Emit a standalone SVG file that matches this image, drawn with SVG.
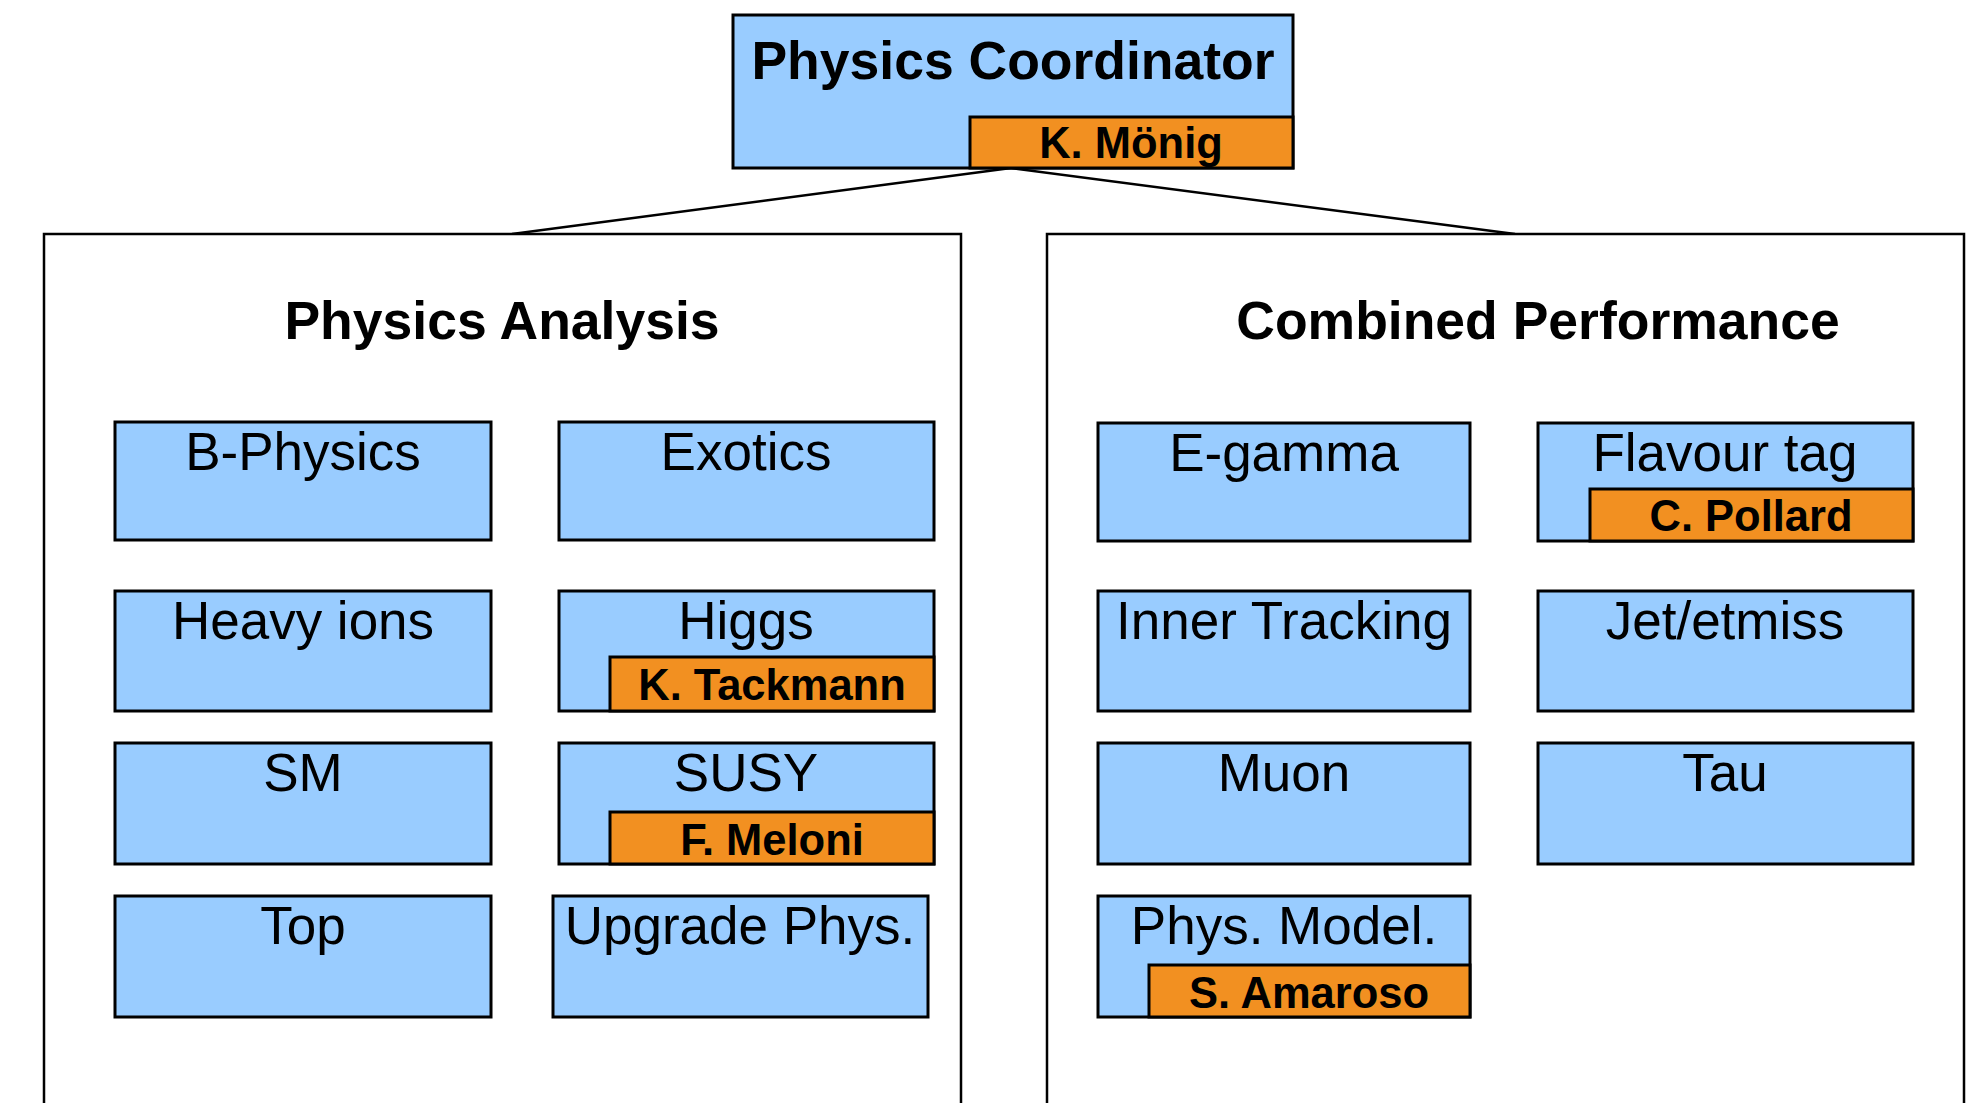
<svg xmlns="http://www.w3.org/2000/svg" width="1988" height="1103" viewBox="0 0 1988 1103">
<style>
.box{fill:#99ccff;stroke:#000;stroke-width:3}
.name{fill:#f29021;stroke:#000;stroke-width:3}
.cont{fill:#fff;stroke:#000;stroke-width:2.5}
.lbl{font-family:"Liberation Sans",Arial,sans-serif;font-size:53px;text-anchor:middle;fill:#000}
.ttl{font-family:"Liberation Sans",Arial,sans-serif;font-size:53.5px;font-weight:bold;text-anchor:middle;fill:#000}
.nm{font-family:"Liberation Sans",Arial,sans-serif;font-size:43.5px;font-weight:bold;text-anchor:middle;fill:#000}
.conn{stroke:#000;stroke-width:2.5;fill:none}
</style>
<rect width="1988" height="1103" fill="#fff"/>
<g id="connectors">
<line class="conn" x1="1011" y1="168" x2="512" y2="234"/>
<line class="conn" x1="1011" y1="168" x2="1515" y2="234"/>
</g>
<g id="coordinator">
<rect class="box" x="733" y="15" width="560" height="153"/>
<rect class="name" x="970" y="117" width="323" height="51"/>
<text class="ttl" x="1013" y="79">Physics Coordinator</text>
<text class="nm" x="1131" y="158">K. Mönig</text>
</g>
<g id="physics-analysis">
<rect class="cont" x="44" y="234" width="917" height="900"/>
<text class="ttl" x="502" y="339">Physics Analysis</text>
</g>
<g id="combined-performance">
<rect class="cont" x="1047" y="234" width="917" height="900"/>
<text class="ttl" x="1538" y="339">Combined Performance</text>
</g>
<g id="b-physics">
<rect class="box" x="115" y="422" width="376" height="118"/>
<text class="lbl" x="303" y="470">B-Physics</text>
</g>
<g id="exotics">
<rect class="box" x="559" y="422" width="375" height="118"/>
<text class="lbl" x="746" y="470">Exotics</text>
</g>
<g id="heavy-ions">
<rect class="box" x="115" y="591" width="376" height="120"/>
<text class="lbl" x="303" y="639">Heavy ions</text>
</g>
<g id="higgs">
<rect class="box" x="559" y="591" width="375" height="120"/>
<rect class="name" x="610" y="657" width="324" height="54"/>
<text class="lbl" x="746" y="639">Higgs</text>
<text class="nm" x="772" y="700">K. Tackmann</text>
</g>
<g id="sm">
<rect class="box" x="115" y="743" width="376" height="121"/>
<text class="lbl" x="303" y="791">SM</text>
</g>
<g id="susy">
<rect class="box" x="559" y="743" width="375" height="121"/>
<rect class="name" x="610" y="812" width="324" height="52"/>
<text class="lbl" x="746" y="791">SUSY</text>
<text class="nm" x="772" y="855">F. Meloni</text>
</g>
<g id="top">
<rect class="box" x="115" y="896" width="376" height="121"/>
<text class="lbl" x="303" y="944">Top</text>
</g>
<g id="upgrade-phys">
<rect class="box" x="553" y="896" width="375" height="121"/>
<text class="lbl" x="740" y="944">Upgrade Phys.</text>
</g>
<g id="e-gamma">
<rect class="box" x="1098" y="423" width="372" height="118"/>
<text class="lbl" x="1284" y="471">E-gamma</text>
</g>
<g id="flavour-tag">
<rect class="box" x="1538" y="423" width="375" height="118"/>
<rect class="name" x="1590" y="489" width="323" height="52"/>
<text class="lbl" x="1725" y="471">Flavour tag</text>
<text class="nm" x="1751" y="531">C. Pollard</text>
</g>
<g id="inner-tracking">
<rect class="box" x="1098" y="591" width="372" height="120"/>
<text class="lbl" x="1284" y="639">Inner Tracking</text>
</g>
<g id="jet-etmiss">
<rect class="box" x="1538" y="591" width="375" height="120"/>
<text class="lbl" x="1725" y="639">Jet/etmiss</text>
</g>
<g id="muon">
<rect class="box" x="1098" y="743" width="372" height="121"/>
<text class="lbl" x="1284" y="791">Muon</text>
</g>
<g id="tau">
<rect class="box" x="1538" y="743" width="375" height="121"/>
<text class="lbl" x="1725" y="791">Tau</text>
</g>
<g id="phys-model">
<rect class="box" x="1098" y="896" width="372" height="121"/>
<rect class="name" x="1149" y="965" width="321" height="52"/>
<text class="lbl" x="1284" y="944">Phys. Model.</text>
<text class="nm" x="1309" y="1008">S. Amaroso</text>
</g>
</svg>
